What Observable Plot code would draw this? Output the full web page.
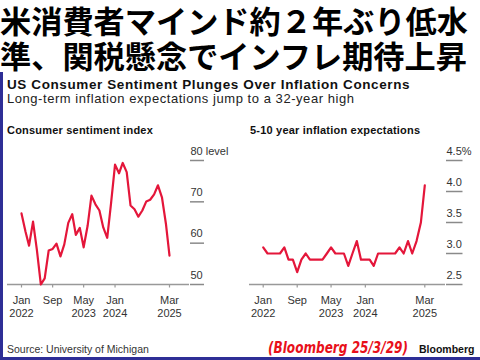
<!DOCTYPE html>
<html><head><meta charset="utf-8">
<script src="https://cdn.jsdelivr.net/npm/d3@7"></script>
<script src="https://cdn.jsdelivr.net/npm/@observablehq/plot@0.6"></script>
<style>
html,body{margin:0;padding:0;background:#fff;}
#root{position:relative;width:480px;height:360px;overflow:hidden;background:#fff;font-family:"Liberation Sans",Arial,sans-serif;}
.abs{position:absolute;white-space:nowrap;}
#jp{left:0;top:2px;font-family:"Noto Sans CJK JP";font-weight:700;font-size:31.2px;line-height:35px;color:#000;}
#title{left:7px;top:77px;font-weight:700;font-size:13.5px;letter-spacing:0.6px;line-height:15px;color:#111;}
#sub{left:7px;top:91px;font-size:13px;letter-spacing:0.55px;line-height:15px;color:#222;}
.ptitle{top:123.5px;font-weight:700;font-size:11px;letter-spacing:0.2px;line-height:12px;color:#111;}
#src{left:7px;top:343px;font-size:10.5px;line-height:12px;color:#333;}
#stamp{left:268px;top:339px;font-size:16px;line-height:18px;font-weight:700;font-style:italic;color:#e8101a;font-family:"Liberation Sans Narrow","DejaVu Sans Condensed",sans-serif;font-stretch:condensed;transform-origin:0 0;}
#bbg{left:419px;top:343px;font-size:10.5px;line-height:12px;font-weight:700;color:#111;}
#bl{left:0;top:72px;width:3px;height:288px;background:#2e2e96;}
#bb{left:0;top:357px;width:480px;height:3px;background:#2e2e96;}
.chart{position:absolute;top:140px;}
</style></head>
<body>
<div id="root">
  <div id="jp" class="abs">米消費者マインド約２年ぶり低水<br>準、関税懸念でインフレ期待上昇</div>
  <div id="title" class="abs">US Consumer Sentiment Plunges Over Inflation Concerns</div>
  <div id="sub" class="abs">Long-term inflation expectations jump to a 32-year high</div>
  <div class="abs ptitle" style="left:7px">Consumer sentiment index</div>
  <div class="abs ptitle" style="left:250px">5-10 year inflation expectations</div>
  <div id="left" class="chart" style="left:0px"></div>
  <div id="right" class="chart" style="left:240px"></div>
  <div id="src" class="abs">Source: University of Michigan</div>
  <div id="stamp" class="abs">(Bloomberg 25/3/29)</div>
  <div id="bbg" class="abs">Bloomberg</div>
  <div id="bl" class="abs"></div>
  <div id="bb" class="abs"></div>
</div>
<script>
// Monthly data, Jan 2022 – Mar 2025
const startMonth = "2022-01";
const sentiment = [
  67.2, 62.8, 59.4, 65.2, 58.4, 50.0, 51.5, 58.2, 58.6, 59.9, 56.8, 59.7,
  64.9, 67.0, 62.0, 63.7, 59.0, 64.2, 71.5, 69.4, 67.9, 63.8, 61.3, 69.7,
  79.0, 76.9, 79.4, 77.2, 69.1, 68.2, 66.4, 67.9, 70.1, 70.5, 71.8, 74.0,
  71.1, 64.7, 57.0
];
const expectations = [
  3.1, 3.0, 3.0, 3.0, 3.0, 3.1, 2.9, 2.9, 2.7, 2.9, 3.0, 2.9,
  2.9, 2.9, 2.9, 3.0, 3.1, 3.0, 3.0, 3.0, 2.8, 3.0, 3.2, 2.9,
  2.9, 2.9, 2.8, 3.0, 3.0, 3.0, 3.0, 3.0, 3.1, 3.0, 3.2, 3.0,
  3.2, 3.5, 4.1
];
const xTickMonths = ["2022-01", "2022-09", "2023-05", "2024-01", "2025-03"];
const xTickLabels = ["Jan\n2022", "Sep", "May\n2023", "Jan\n2024", "Mar\n2025"];
const sentTicks = [50, 60, 70, 80];
const expTicks = [2.5, 3.0, 3.5, 4.0, 4.5];

const parseM = d3.utcParse("%Y-%m");
const start = parseM(startMonth);
const xTicks = xTickMonths.map(parseM);
const fmtX = d => xTickLabels[xTicks.findIndex(t => +t === +d)];
const RED = "#e4163a";

function panel(values, cfg) {
  const data = values.map((v, i) => ({date: d3.utcMonth.offset(start, i), value: v}));
  return Plot.plot({
    width: 240, height: 185,
    marginTop: 20, marginBottom: 41,
    marginLeft: cfg.marginLeft, marginRight: cfg.marginRight,
    style: {fontFamily: "Liberation Sans, Arial, sans-serif", fontSize: "11px", color: "#333", background: "transparent", overflow: "visible"},
    x: {type: "utc", domain: d3.extent(data, d => d.date), insetLeft: cfg.insetLeft, insetRight: cfg.insetRight},
    y: {domain: cfg.yDomain},
    marks: [
      Plot.ruleY([cfg.yDomain[0]], {stroke: "#999", strokeWidth: 1.5}),
      Plot.axisY(cfg.yTicks, {anchor: "right", tickSize: cfg.tickSize, tickFormat: () => "", stroke: "#8a8a8a", strokeWidth: 1.5, label: null}),
      Plot.axisY(cfg.yTicks, {anchor: "right", tickSize: 0, tickPadding: 1, tickFormat: cfg.yFmt, textAnchor: "start", lineAnchor: "bottom", dy: -6, fill: "#333", label: null}),
      Plot.axisX(xTicks, {anchor: "bottom", tickSize: 3.5, tickPadding: 7, tickFormat: fmtX, lineHeight: 1.15, stroke: "#999", strokeWidth: 1.2, fill: "#333", label: null}),
      Plot.line(data, {x: "date", y: "value", stroke: RED, strokeWidth: 2.2, strokeLinejoin: "round"})
    ]
  });
}

document.getElementById("left").append(panel(sentiment, {
  marginLeft: 7, marginRight: 51, insetLeft: 14, insetRight: 20, tickSize: 14,
  yDomain: [50, 80], yTicks: sentTicks,
  yFmt: d => d === 80 ? "80 level" : String(d)
}));
document.getElementById("right").append(panel(expectations, {
  marginLeft: 9, marginRight: 35, insetLeft: 13.7, insetRight: 20.7, tickSize: 16.5,
  yDomain: [2.5, 4.5], yTicks: expTicks,
  yFmt: d => d === 4.5 ? "4.5%" : d.toFixed(1)
}));

// fit the red stamp to its width in the reference
const stamp = document.getElementById("stamp");
const w = stamp.getBoundingClientRect().width;
if (w > 0) stamp.style.transform = `scaleX(${140 / w})`;
</script>
</body></html>
